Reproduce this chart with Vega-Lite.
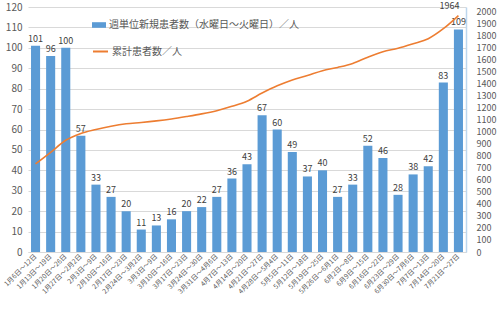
{
  "$schema": "https://vega.github.io/schema/vega-lite/v6.json",
  "width": 438,
  "height": 245,
  "autosize": {"type": "none"},
  "padding": {"left": 28, "top": 7, "right": 34, "bottom": 69},
  "background": "white",
  "config": {
    "view": {"stroke": null},
    "font": "Noto Sans CJK JP",
    "axis": {"labelColor": "#595959", "labelFont": "Noto Sans CJK JP", "titleFont": "Noto Sans CJK JP"},
    "legend": {"labelFont": "Noto Sans CJK JP", "labelColor": "#595959", "labelFontSize": 10, "padding": 0, "labelLimit": 400}
  },
  "data": {"values": [
    {"week": "1月6日～12日", "new": 101, "cum": 732},
    {"week": "1月13日～19日", "new": 96, "cum": 828},
    {"week": "1月20日～26日", "new": 100, "cum": 928},
    {"week": "1月27日～2月2日", "new": 57, "cum": 985},
    {"week": "2月3日～9日", "new": 33, "cum": 1018},
    {"week": "2月10日～16日", "new": 27, "cum": 1045},
    {"week": "2月17日～23日", "new": 20, "cum": 1065},
    {"week": "2月24日～3月2日", "new": 11, "cum": 1076},
    {"week": "3月3日～9日", "new": 13, "cum": 1089},
    {"week": "3月10日～16日", "new": 16, "cum": 1105},
    {"week": "3月17日～23日", "new": 20, "cum": 1125},
    {"week": "3月24日～30日", "new": 22, "cum": 1147},
    {"week": "3月31日～4月6日", "new": 27, "cum": 1174},
    {"week": "4月7日～13日", "new": 36, "cum": 1210},
    {"week": "4月14日～20日", "new": 43, "cum": 1253},
    {"week": "4月21日～27日", "new": 67, "cum": 1320},
    {"week": "4月28日～5月4日", "new": 60, "cum": 1380},
    {"week": "5月5日～11日", "new": 49, "cum": 1429},
    {"week": "5月12日～18日", "new": 37, "cum": 1466},
    {"week": "5月19日～25日", "new": 40, "cum": 1506},
    {"week": "5月26日～6月1日", "new": 27, "cum": 1533},
    {"week": "6月2日～8日", "new": 33, "cum": 1566},
    {"week": "6月9日～15日", "new": 52, "cum": 1618},
    {"week": "6月16日～22日", "new": 46, "cum": 1664},
    {"week": "6月23日～29日", "new": 28, "cum": 1692},
    {"week": "6月30日～7月6日", "new": 38, "cum": 1730},
    {"week": "7月7日～13日", "new": 42, "cum": 1772},
    {"week": "7月14日～20日", "new": 83, "cum": 1855},
    {"week": "7月21日～27日", "new": 109, "cum": 1964}
  ]},
  "encoding": {
    "x": {
      "field": "week", "type": "nominal", "sort": null, "title": null,
      "scale": {"paddingInner": 0.4, "paddingOuter": 0.2},
      "axis": {"labelAngle": -45, "labelAlign": "right", "labelBaseline": "middle", "labelFontSize": 6.8, "labelPadding": 3, "ticks": false, "domain": true, "domainColor": "#D9D9D9", "labelColor": "#595959", "labelLimit": 200}
    }
  },
  "layer": [
    {
      "encoding": {
        "y": {
          "field": "new", "type": "quantitative", "title": null,
          "scale": {"domain": [0, 120], "nice": false},
          "axis": {"orient": "left", "values": [0,10,20,30,40,50,60,70,80,90,100,110,120], "grid": true, "gridColor": "#D9D9D9", "domain": false, "ticks": false, "labelFontSize": 10, "labelPadding": 6, "format": "d"}
        }
      },
      "layer": [
        {
          "mark": {"type": "bar", "color": "#5B9BD5"},
          "encoding": {
            "fill": {"datum": "週単位新規患者数（水曜日～火曜日）／人", "scale": {"range": ["#5B9BD5"]},
              "legend": {"title": null, "orient": "none", "legendX": 64, "legendY": 11, "symbolType": "M-1,-0.4L1,-0.4L1,0.4L-1,0.4Z", "symbolSize": 196, "symbolStrokeWidth": 0, "labelOffset": 3, "labelLimit": 400}}
          }
        },
        {
          "mark": {"type": "text", "dy": -7, "fontSize": 9, "color": "#404040"},
          "encoding": {"text": {"field": "new", "type": "quantitative"}}
        }
      ]
    },
    {
      "encoding": {
        "y": {
          "field": "cum", "type": "quantitative", "title": null,
          "scale": {"domain": [0, 2035], "nice": false},
          "axis": {"orient": "right", "values": [0,100,200,300,400,500,600,700,800,900,1000,1100,1200,1300,1400,1500,1600,1700,1800,1900,2000], "format": "d", "grid": false, "domain": true, "domainColor": "#BDD7EE", "domainWidth": 1.5, "ticks": false, "labelFontSize": 9, "labelPadding": 10, "labelAlign": "left"}
        }
      },
      "layer": [
        {
          "mark": {"type": "line", "interpolate": "monotone", "strokeWidth": 1.6, "color": "#ED7D31"},
          "encoding": {
            "stroke": {"datum": "累計患者数／人", "scale": {"range": ["#ED7D31"]},
              "legend": {"title": null, "orient": "none", "legendX": 64, "legendY": 36, "symbolType": "stroke", "symbolSize": 225, "symbolStrokeWidth": 2, "labelOffset": 3}}
          }
        },
        {
          "transform": [{"filter": "datum.week === '7月21日～27日'"}],
          "mark": {"type": "text", "dy": -10, "dx": -9, "fontSize": 9, "color": "#404040"},
          "encoding": {"text": {"field": "cum", "type": "quantitative", "format": "d"}}
        }
      ]
    }
  ],
  "resolve": {"scale": {"y": "independent"}}
}
